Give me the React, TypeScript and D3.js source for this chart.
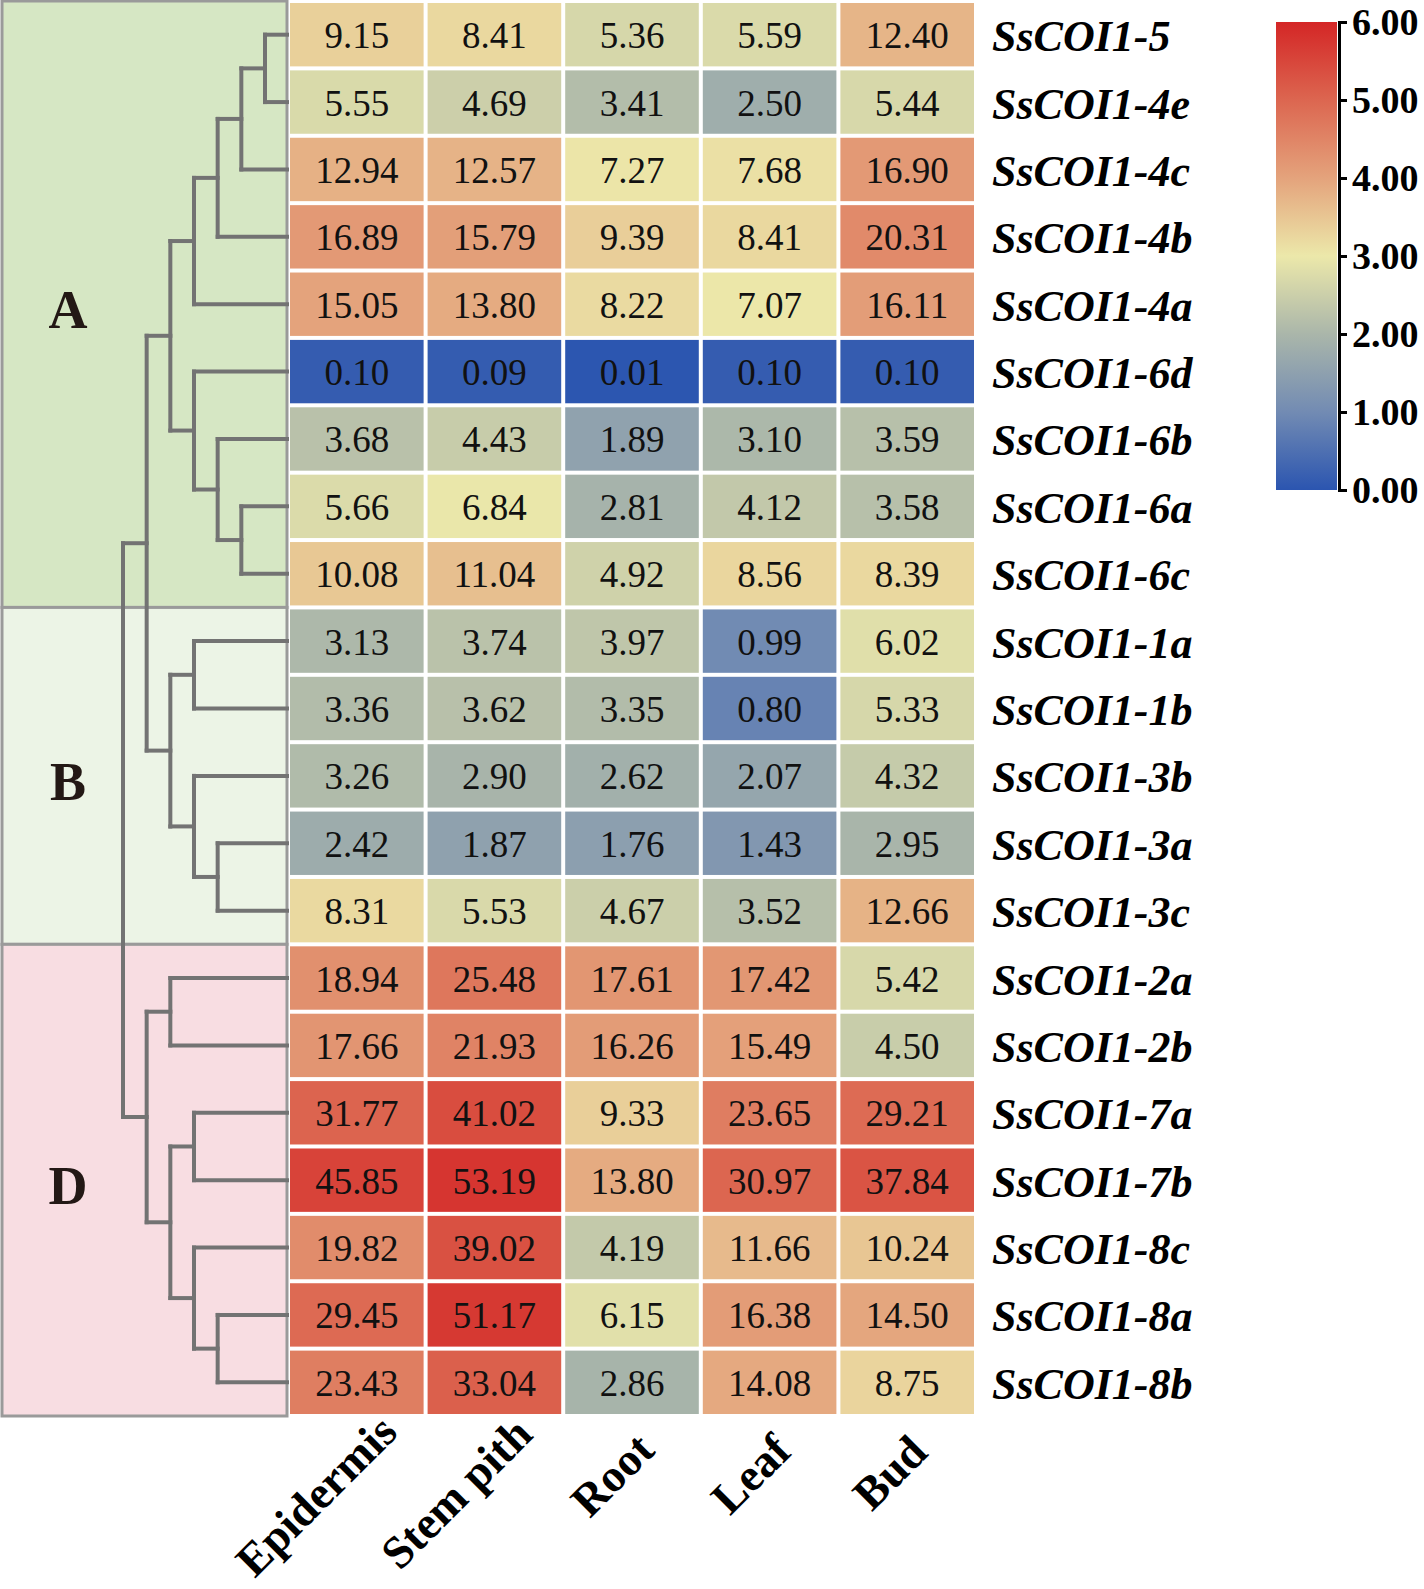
import { useRef, useEffect } from "react";
import * as d3 from "d3";

const genes = [
  "SsCOI1-5", "SsCOI1-4e", "SsCOI1-4c", "SsCOI1-4b", "SsCOI1-4a", "SsCOI1-6d", "SsCOI1-6b",
  "SsCOI1-6a", "SsCOI1-6c", "SsCOI1-1a", "SsCOI1-1b", "SsCOI1-3b", "SsCOI1-3a", "SsCOI1-3c",
  "SsCOI1-2a", "SsCOI1-2b", "SsCOI1-7a", "SsCOI1-7b", "SsCOI1-8c", "SsCOI1-8a", "SsCOI1-8b",
];
const tissues = ["Epidermis", "Stem pith", "Root", "Leaf", "Bud"];

const epidermis = [9.15, 5.55, 12.94, 16.89, 15.05, 0.1, 3.68, 5.66, 10.08, 3.13, 3.36, 3.26, 2.42, 8.31, 18.94, 17.66, 31.77, 45.85, 19.82, 29.45, 23.43];
const stemPith = [8.41, 4.69, 12.57, 15.79, 13.8, 0.09, 4.43, 6.84, 11.04, 3.74, 3.62, 2.9, 1.87, 5.53, 25.48, 21.93, 41.02, 53.19, 39.02, 51.17, 33.04];
const root = [5.36, 3.41, 7.27, 9.39, 8.22, 0.01, 1.89, 2.81, 4.92, 3.97, 3.35, 2.62, 1.76, 4.67, 17.61, 16.26, 9.33, 13.8, 4.19, 6.15, 2.86];
const leaf = [5.59, 2.5, 7.68, 8.41, 7.07, 0.1, 3.1, 4.12, 8.56, 0.99, 0.8, 2.07, 1.43, 3.52, 17.42, 15.49, 23.65, 30.97, 11.66, 16.38, 14.08];
const bud = [12.4, 5.44, 16.9, 20.31, 16.11, 0.1, 3.59, 3.58, 8.39, 6.02, 5.33, 4.32, 2.95, 12.66, 5.42, 4.5, 29.21, 37.84, 10.24, 14.5, 8.75];
const columns = [epidermis, stemPith, root, leaf, bud];

// clusters: label, first row, last row
const groups = [
  { name: "A", from: 0, to: 8, fill: "#d6e7c4" },
  { name: "B", from: 9, to: 13, fill: "#ecf4e6" },
  { name: "D", from: 14, to: 20, fill: "#f8dde2" },
];

// dendrogram: numbers are leaf rows, h = merge level
const tree = {
  h: 7,
  children: [
    {
      h: 6,
      children: [
        {
          h: 5,
          children: [
            { h: 4, children: [{ h: 3, children: [{ h: 2, children: [{ h: 1, children: [0, 1] }, 2] }, 3] }, 4] },
            { h: 4, children: [5, { h: 3, children: [6, { h: 2, children: [7, 8] }] }] },
          ],
        },
        {
          h: 5,
          children: [
            { h: 4, children: [9, 10] },
            { h: 4, children: [11, { h: 3, children: [12, 13] }] },
          ],
        },
      ],
    },
    {
      h: 6,
      children: [
        { h: 5, children: [14, 15] },
        {
          h: 5,
          children: [
            { h: 4, children: [16, 17] },
            { h: 4, children: [18, { h: 3, children: [19, 20] }] },
          ],
        },
      ],
    },
  ],
};

const legendTicks = [0, 1, 2, 3, 4, 5, 6];
const colorStops = ["#2b55b0", "#728bb3", "#aab6aa", "#ece8aa", "#e4a37c", "#dc6650", "#d42626"];

const W = 1424;
const H = 1589;

const App = () => {
  const svgRef = useRef(null);

  useEffect(() => {
    const svg = d3.select(svgRef.current);
    svg.selectAll("*").remove();
    const serif = "'Liberation Serif', 'Times New Roman', serif";

    const x = d3.scaleBand().domain(tissues).range([288, 976]);
    const y = d3.scaleBand().domain(genes).range([1, 1416]);
    const color = d3.scaleLinear<string>().domain(legendTicks).range(colorStops).clamp(true);
    const gap = 2;

    // cluster panels
    const panelLeft = 2;
    const panelRight = 287;
    const pg = svg.append("g");
    groups.forEach((g) => {
      const y0 = y(genes[g.from]);
      const y1 = y(genes[g.to]) + y.bandwidth();
      pg.append("rect")
        .attr("x", panelLeft)
        .attr("y", y0)
        .attr("width", panelRight - panelLeft)
        .attr("height", y1 - y0)
        .attr("fill", g.fill)
        .attr("stroke", "#9a9a9a")
        .attr("stroke-width", 3);
      pg.append("text")
        .attr("x", 68)
        .attr("y", (y0 + y1) / 2 + 6)
        .attr("text-anchor", "middle")
        .attr("dominant-baseline", "central")
        .attr("font-family", serif)
        .attr("font-weight", "bold")
        .attr("font-size", 54)
        .attr("fill", "#231815")
        .text(g.name);
    });

    // dendrogram
    const root = d3.hierarchy(tree, (d) => (typeof d === "number" ? null : d.children));
    const hx = d3.scaleLinear().domain([1, 7]).range([265, 123]);
    const rowY = (i) => y(genes[i]) + y.bandwidth() / 2;
    root.eachAfter((n) => {
      if (typeof n.data === "number") {
        n.px = panelRight;
        n.py = rowY(n.data);
      } else {
        n.px = hx(n.data.h);
        n.py = d3.mean(n.children, (c) => c.py);
      }
    });
    const links = [];
    root.each((n) => {
      if (!n.children) return;
      const ys = n.children.map((c) => c.py);
      links.push(`M${n.px},${d3.min(ys)}V${d3.max(ys)}`);
      n.children.forEach((c) => links.push(`M${n.px},${c.py}H${c.px}`));
    });
    svg.append("g")
      .selectAll("path")
      .data(links)
      .join("path")
      .attr("d", (d) => d)
      .attr("fill", "none")
      .attr("stroke", "#737373")
      .attr("stroke-width", 4)
      .attr("stroke-linecap", "square");

    // heatmap cells
    const cells = [];
    genes.forEach((g, i) => {
      tissues.forEach((t, j) => cells.push({ g, t, v: columns[j][i] }));
    });
    const cg = svg.append("g");
    cg.selectAll("rect")
      .data(cells)
      .join("rect")
      .attr("x", (d) => x(d.t) + gap)
      .attr("y", (d) => y(d.g) + gap)
      .attr("width", x.bandwidth() - gap * 2)
      .attr("height", y.bandwidth() - gap * 2)
      .attr("fill", (d) => color(Math.log2(d.v + 1)));
    cg.selectAll("text")
      .data(cells)
      .join("text")
      .attr("x", (d) => x(d.t) + x.bandwidth() / 2)
      .attr("y", (d) => y(d.g) + y.bandwidth() / 2 + 1)
      .attr("text-anchor", "middle")
      .attr("dominant-baseline", "central")
      .attr("font-family", serif)
      .attr("font-size", 37)
      .attr("fill", "#111")
      .text((d) => d.v.toFixed(2));

    // row labels
    svg.append("g")
      .selectAll("text")
      .data(genes)
      .join("text")
      .attr("x", 992)
      .attr("y", (d) => y(d) + y.bandwidth() / 2 + 2)
      .attr("dominant-baseline", "central")
      .attr("font-family", serif)
      .attr("font-weight", "bold")
      .attr("font-style", "italic")
      .attr("font-size", 44)
      .attr("fill", "#000")
      .text((d) => d);

    // column labels, pivot sits ~23% of the way back from the text end
    const colLabels = svg.append("g")
      .selectAll("text")
      .data(tissues)
      .join("text")
      .attr("transform", (d) => `translate(${x(d) + x.bandwidth() / 2 + 9},1468) rotate(-45)`)
      .attr("text-anchor", "end")
      .attr("font-family", serif)
      .attr("font-weight", "bold")
      .attr("font-size", 46)
      .attr("fill", "#000")
      .text((d) => d);
    colLabels.attr("x", function () {
      return 0.232 * this.getComputedTextLength();
    });

    // colour legend
    const lx = 1276;
    const lw = 61;
    const ly = d3.scaleLinear().domain([0, 6]).range([490, 22]);
    const defs = svg.append("defs");
    const grad = defs.append("linearGradient")
      .attr("id", "lg")
      .attr("x1", 0).attr("y1", 1).attr("x2", 0).attr("y2", 0);
    legendTicks.forEach((t, i) => {
      grad.append("stop").attr("offset", t / 6).attr("stop-color", colorStops[i]);
    });
    svg.append("rect")
      .attr("x", lx)
      .attr("y", ly(6))
      .attr("width", lw)
      .attr("height", ly(0) - ly(6))
      .attr("fill", "url(#lg)");
    const axis = svg.append("g")
      .attr("transform", `translate(${lx + lw + 2},0)`)
      .call(d3.axisRight(ly).tickValues(legendTicks).tickFormat(d3.format(".2f")).tickSize(8).tickPadding(5));
    axis.select(".domain").attr("stroke", "#000").attr("stroke-width", 3);
    axis.selectAll(".tick line").attr("stroke", "#000").attr("stroke-width", 3);
    axis.selectAll(".tick text")
      .attr("font-family", serif)
      .attr("font-weight", "bold")
      .attr("font-size", 38)
      .attr("fill", "#000");
  }, []);

  return (
    <svg
      ref={svgRef}
      width={W}
      height={H}
      style={{ position: "absolute", left: 0, top: 0, background: "#fff" }}
    ></svg>
  );
};

export default App;
